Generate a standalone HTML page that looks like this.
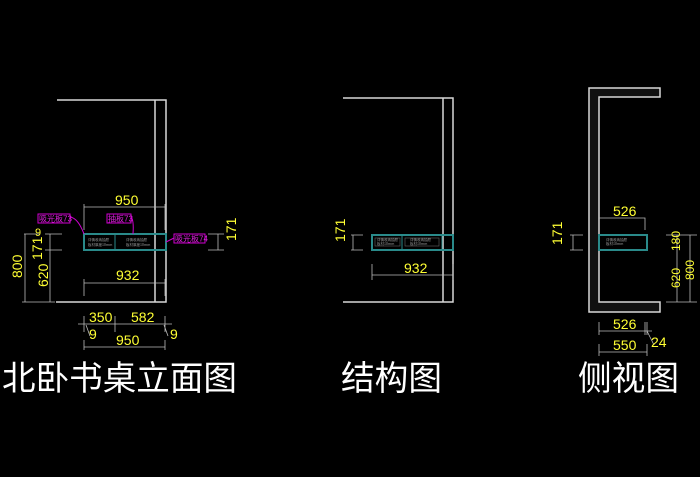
<!DOCTYPE html>
<html><head><meta charset="utf-8"><style>
html,body{margin:0;padding:0;background:#000;width:700px;height:477px;overflow:hidden}
svg{display:block}
.w{stroke:#d8d8d8;stroke-width:1.5;fill:none}
.d{stroke:#bbb;stroke-width:0.8;fill:none}
.t{stroke:#2a8a8a;stroke-width:2;fill:none}
.y{fill:#ffff33;font-family:"Liberation Sans Narrow","Liberation Sans",sans-serif;font-size:14px}
.m{stroke:#d000d0;stroke-width:1;fill:none}
.mt{fill:#e020e0;font-family:"Liberation Sans","Noto Sans CJK SC",sans-serif;font-size:8px}
.tt{fill:#fff;font-family:"Liberation Sans","Noto Sans CJK SC",sans-serif;font-size:34px}
.s{fill:#999;font-family:"Noto Sans CJK SC",sans-serif;font-size:3.5px}
</style></head><body>
<svg width="700" height="477" viewBox="0 0 700 477">
<!-- LEFT -->
<path class="w" d="M57 100H166V302H56M155 100V302"/>
<rect class="t" x="84" y="234" width="82" height="16"/>
<line class="t" x1="115" y1="234" x2="115" y2="250" style="stroke-width:1"/>
<text class="s" x="88" y="241">详情收纳抽屉</text><text class="s" x="88" y="246">板材厚度18mm</text>
<text class="s" x="126" y="241">详情收纳抽屉</text><text class="s" x="126" y="246">板材厚度18mm</text>
<path class="d" d="M84 204V230M165 204V230M84 207H165M84 279V296M165 279V296M84 283H165"/>
<text class="y" x="115" y="205">950</text>
<text class="y" x="116" y="280">932</text>
<path class="d" d="M24 234H40M22 302H55M25 234V302M45 234H62M45 250H62M45 302H55M50 234V302"/>
<text class="y" transform="translate(22,278) rotate(-90)">800</text>
<text class="y" transform="translate(48,287) rotate(-90)">620</text>
<text class="y" transform="translate(42,260) rotate(-90)">171</text>
<text class="y" x="35" y="236" style="font-size:11px">9</text>
<path class="d" d="M208 234H224M208 250H224M218 234V250"/>
<text class="y" transform="translate(236,241) rotate(-90)">171</text>
<!-- magenta labels -->
<rect class="m" x="38" y="214" width="32" height="9"/><text class="mt" x="39" y="221.5">吸光板73</text>
<path class="m" d="M70 217Q78 218 84 234"/>
<rect class="m" x="107" y="214" width="24" height="9"/><text class="mt" x="108" y="221.5">抽板73</text>
<path class="m" d="M131 217Q134 220 133 234"/>
<rect class="m" x="174" y="234" width="31" height="9"/><text class="mt" x="175" y="241.5">吸光板74</text>
<path class="m" d="M174 238L166 242"/>
<!-- bottom dims -->
<path class="d" d="M78 324H172M84 316V332M115 316V332M165 316V332M84 340V350M165 340V350M84 347H165M86 325L90 336M164 325L168 336"/>
<text class="y" x="89" y="322">350</text>
<text class="y" x="131" y="322">582</text>
<text class="y" x="89" y="339">9</text>
<text class="y" x="170" y="339">9</text>
<text class="y" x="116" y="345">950</text>
<!-- MIDDLE -->
<path class="w" d="M343 98H453V302H343M443 98V302"/>
<rect class="t" x="372" y="235" width="81" height="15"/>
<path class="t" style="stroke-width:1" d="M402 235V250M442 235V250"/>
<rect x="375" y="238" width="25" height="8" fill="none" stroke="#666" stroke-width="0.6"/>
<rect x="405" y="238" width="34" height="8" fill="none" stroke="#666" stroke-width="0.6"/>
<text class="s" x="377" y="241">详情收纳抽屉</text><text class="s" x="377" y="245">板材18mm</text>
<text class="s" x="410" y="241">详情收纳抽屉</text><text class="s" x="410" y="245">板材18mm</text>
<path class="d" d="M351 235H363M351 250H363M353 235V250M372 264V280M453 264V280M372 275H453"/>
<text class="y" transform="translate(345,242) rotate(-90)">171</text>
<text class="y" x="404" y="273">932</text>
<!-- RIGHT -->
<path d="M589 88H660V97H599V302H660V312H589Z" fill="#111" stroke="#d8d8d8" stroke-width="1.5"/>
<rect class="t" x="599" y="235" width="48" height="15"/>
<text class="s" x="606" y="241">详情收纳抽屉</text><text class="s" x="606" y="245">板材18mm</text>
<path class="d" d="M599 218H645V230M570 235H583M570 250H583M573 235V250M666 235H697M666 302H697M677 235V302M690 235V302M599 322V335M645 322V335M647 322V335M599 331H652M599 344V356M647 344V356M599 352H647M647 331L654 345"/>
<text class="y" x="613" y="216">526</text>
<text class="y" transform="translate(562,245) rotate(-90)">171</text>
<text class="y" transform="translate(680,251) rotate(-90)" style="font-size:12px">180</text>
<text class="y" transform="translate(680,288) rotate(-90)" style="font-size:12px">620</text>
<text class="y" transform="translate(694,280) rotate(-90)" style="font-size:12px">800</text>
<text class="y" x="613" y="329">526</text>
<text class="y" x="613" y="350">550</text>
<text class="y" x="651" y="347">24</text>
<!-- titles -->
<text class="tt" x="2" y="390" textLength="235" lengthAdjust="spacingAndGlyphs">北卧书桌立面图</text>
<text class="tt" x="341" y="390" textLength="101" lengthAdjust="spacingAndGlyphs">结构图</text>
<text class="tt" x="578" y="390" textLength="101" lengthAdjust="spacingAndGlyphs">侧视图</text>
</svg>
</body></html>
